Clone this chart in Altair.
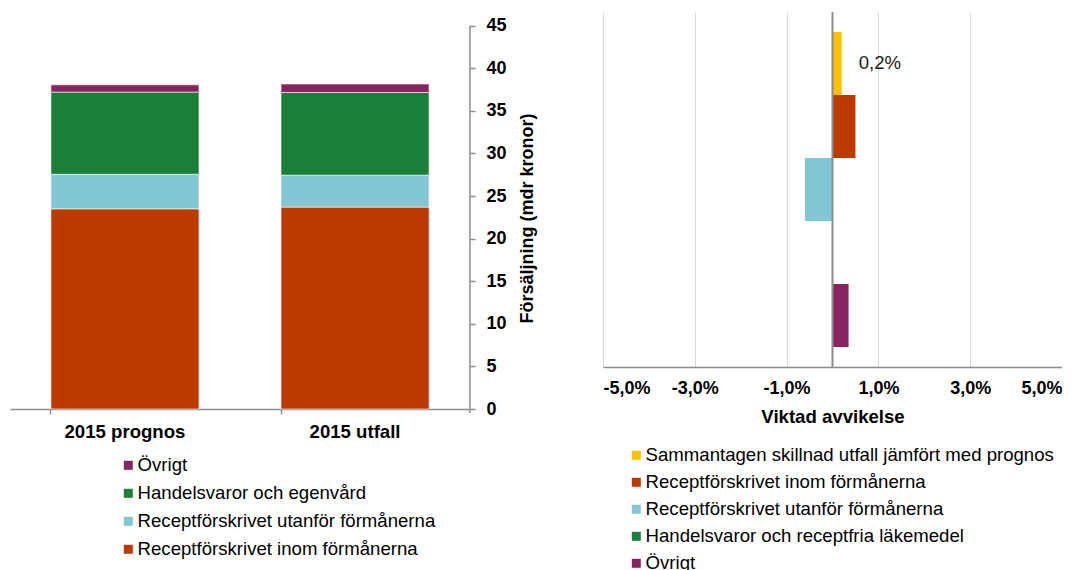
import altair as alt
import pandas as pd

FONT = "Liberation Sans"

# ---- left chart data ----
left_categories = ["2015 prognos", "2015 utfall"]
left_series = [
    "Receptförskrivet inom förmånerna",
    "Receptförskrivet utanför förmånerna",
    "Handelsvaror och egenvård",
    "Övrigt",
]
left_colors = ["#BC3A00", "#83C6D5", "#1C7F37", "#8A2461"]
prognos_values = [23.5, 4.05, 9.65, 0.85]
utfall_values = [23.7, 3.75, 9.7, 1.0]
left_ticks = [0, 5, 10, 15, 20, 25, 30, 35, 40, 45]
left_ytitle = "Försäljning (mdr kronor)"

# ---- right chart data ----
right_series = [
    "Sammantagen skillnad utfall jämfört med prognos",
    "Receptförskrivet inom förmånerna",
    "Receptförskrivet utanför förmånerna",
    "Handelsvaror och receptfria läkemedel",
    "Övrigt",
]
right_colors = ["#FFC000", "#BC3A00", "#83C6D5", "#1C7F37", "#8A2461"]
right_values = [0.2, 0.5, -0.6, 0.0, 0.35]
right_ticks = [-5, -3, -1, 1, 3, 5]
right_xtitle = "Viktad avvikelse"
total_label = "0,2%"

rows = []
for cat, vals in zip(left_categories, [prognos_values, utfall_values]):
    for i, (s, v) in enumerate(zip(left_series, vals)):
        rows.append({"kategori": cat, "serie": s, "varde": v, "ordning": i})
left_df = pd.DataFrame(rows)

right_df = pd.DataFrame({"serie": right_series, "varde": right_values})
label_df = pd.DataFrame({"serie": [right_series[0]], "varde": [right_values[0]], "text": [total_label]})

AX = "#8c8c8c"
FS = 18.6

left_bars = alt.Chart(left_df).mark_bar(stroke="white", strokeWidth=0.6).encode(
    x=alt.X("kategori:N", sort=left_categories,
            scale=alt.Scale(paddingInner=0.3565, paddingOuter=0.178),
            axis=alt.Axis(title=None, labelAngle=0, bandPosition=0, tickSize=5,
                          domainColor=AX, tickColor=AX, domainWidth=1.5, tickWidth=1.5,
                          labelFont=FONT, labelFontSize=FS, labelFontWeight="bold",
                          labelColor="black", labelPadding=8)),
    y=alt.Y("varde:Q", stack="zero",
            scale=alt.Scale(domain=[0, 46.6], nice=False, zero=True),
            axis=alt.Axis(orient="right", values=left_ticks, domain=False, grid=False,
                          tickSize=5, tickColor=AX, tickWidth=1.5,
                          labelFont=FONT, labelFontSize=18, labelFontWeight="bold",
                          labelColor="black", labelPadding=11,
                          title=left_ytitle, titleFont=FONT, titleFontSize=18,
                          titleFontWeight="bold", titleColor="black",
                          titleAngle=270, titleBaseline="middle", titleAlign="center",
                          titleX=57, titleY=206)),
    color=alt.Color("serie:N",
                    scale=alt.Scale(domain=list(reversed(left_series)),
                                    range=list(reversed(left_colors))),
                    legend=alt.Legend(orient="none", legendX=109, legendY=444, title=None,
                                      symbolType="square", symbolSize=81, symbolStrokeWidth=0,
                                      labelFont=FONT, labelFontSize=FS, labelColor="black",
                                      labelLimit=0, rowPadding=9, labelOffset=0, padding=0)),
    order=alt.Order("ordning:Q"),
)

left_axis_line = alt.Chart(pd.DataFrame({"a": [-0.5], "b": [45]})).mark_rule(
    color=AX, strokeWidth=1.5).encode(
    x=alt.value(460), y="a:Q", y2="b:Q")

left = alt.layer(left_bars, left_axis_line).properties(
    width=460, height=397, view=alt.ViewBackground(strokeWidth=0, stroke="transparent"))

right_bars = alt.Chart(right_df).mark_bar().encode(
    x=alt.X("varde:Q", scale=alt.Scale(domain=[-5, 5], nice=False),
            axis=alt.Axis(values=right_ticks, grid=True, gridColor="#d9d9d9", gridWidth=1,
                          ticks=False, domainColor=AX, domainWidth=1.5,
                          labelExpr="(datum.value < 0 ? '-' : '') + replace(format(abs(datum.value), '.1f'), '.', ',') + '%'",
                          labelFont=FONT, labelFontSize=18, labelFontWeight="bold",
                          labelColor="black", labelPadding=12,
                          title=right_xtitle, titleFont=FONT, titleFontSize=FS,
                          titleFontWeight="bold", titleColor="black", titlePadding=10)),
    y=alt.Y("serie:N", sort=right_series,
            scale=alt.Scale(paddingInner=0, paddingOuter=0.317), axis=None),
    color=alt.Color("serie:N",
                    scale=alt.Scale(domain=right_series, range=right_colors),
                    legend=alt.Legend(orient="none", legendX=24, legendY=434, title=None,
                                      symbolType="square", symbolSize=81, symbolStrokeWidth=0,
                                      labelFont=FONT, labelFontSize=FS, labelColor="black",
                                      labelLimit=0, rowPadding=8, labelOffset=0, padding=0)),
)

zero_line = alt.Chart(pd.DataFrame({"z": [0]})).mark_rule(color=AX, strokeWidth=2).encode(
    x="z:Q")

right_text = alt.Chart(label_df).mark_text(
    align="left", baseline="middle", dx=17, font=FONT, fontSize=FS, color="#1a1a1a").encode(
    x="varde:Q", y=alt.Y("serie:N", sort=right_series), text="text:N")

right = alt.layer(right_bars, zero_line, right_text).properties(
    width=459, height=355, view=alt.ViewBackground(strokeWidth=0, stroke="transparent"))

chart = alt.hconcat(left, right, spacing=67).resolve_scale(
    color="independent").resolve_legend(color="independent").properties(
    padding={"left": 2, "top": 3, "right": 0, "bottom": 0}
).configure_view(strokeWidth=0, stroke="transparent").configure(font=FONT)

chart.save("out.html", embed_options={"renderer": "svg", "actions": False})
